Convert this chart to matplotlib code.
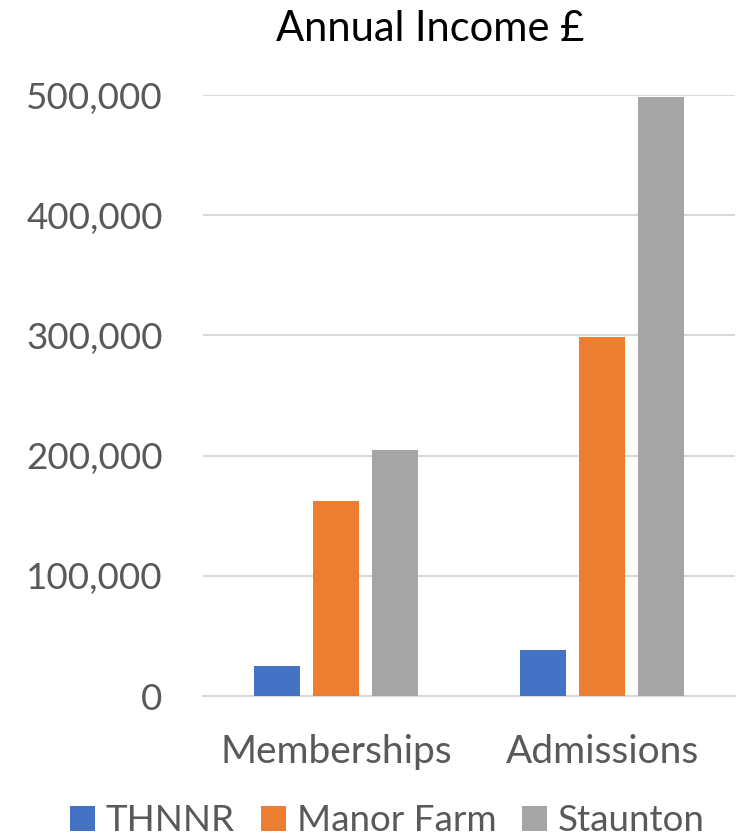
import numpy as np
import matplotlib.pyplot as plt
from matplotlib.ticker import FuncFormatter

categories = ["Memberships", "Admissions"]
series = ["THNNR", "Manor Farm", "Staunton"]
thnnr = [25000, 38000]
manor_farm = [162000, 299000]
staunton = [205000, 498000]
colors = ["#4472C4", "#ED7D31", "#A5A5A5"]

plt.rcParams["font.family"] = ["Lato", "DejaVu Sans"]


def main() -> None:
    fig = plt.figure(figsize=(7.42, 8.4), dpi=100)
    ax = fig.add_axes([0.2736, 0.1714, 0.717, 0.7155])

    x = np.arange(len(categories))
    width = 0.173
    step = 0.222
    for i, (name, vals) in enumerate(zip(series, [thnnr, manor_farm, staunton])):
        ax.bar(x + (i - 1) * step, vals, width, color=colors[i], label=name, zorder=3)

    ax.set_xlim(-0.5, 1.5)
    ax.set_ylim(0, 500000)
    ax.set_yticks(np.arange(0, 500001, 100000))
    ax.yaxis.set_major_formatter(FuncFormatter(lambda v, p: f"{int(v):,}"))
    ax.set_xticks(x)
    ax.set_xticklabels(categories)
    ax.grid(axis="y", color="#D9D9D9", linewidth=1.5, zorder=0)
    for s in ["top", "right", "left"]:
        ax.spines[s].set_visible(False)
    ax.spines["bottom"].set_color("#D9D9D9")
    ax.spines["bottom"].set_linewidth(1.5)
    ax.tick_params(axis="both", length=0, colors="#595959")
    ax.tick_params(axis="y", labelsize=26.5, pad=29)
    ax.tick_params(axis="x", labelsize=28, pad=27)

    fig.text(0.5795, 1 - 41 / 840, "Annual Income £", ha="center", va="baseline",
             fontsize=30, color="black")
    fig.legend(loc="lower center", bbox_to_anchor=(0.522, -0.032), ncol=3, frameon=False,
               fontsize=26.5, labelcolor="#595959", handlelength=0.68, handleheight=0.68,
               handletextpad=0.3, columnspacing=0.7, borderpad=0.3)

    fig.savefig("out.png", dpi=100)


if __name__ == "__main__":
    main()
